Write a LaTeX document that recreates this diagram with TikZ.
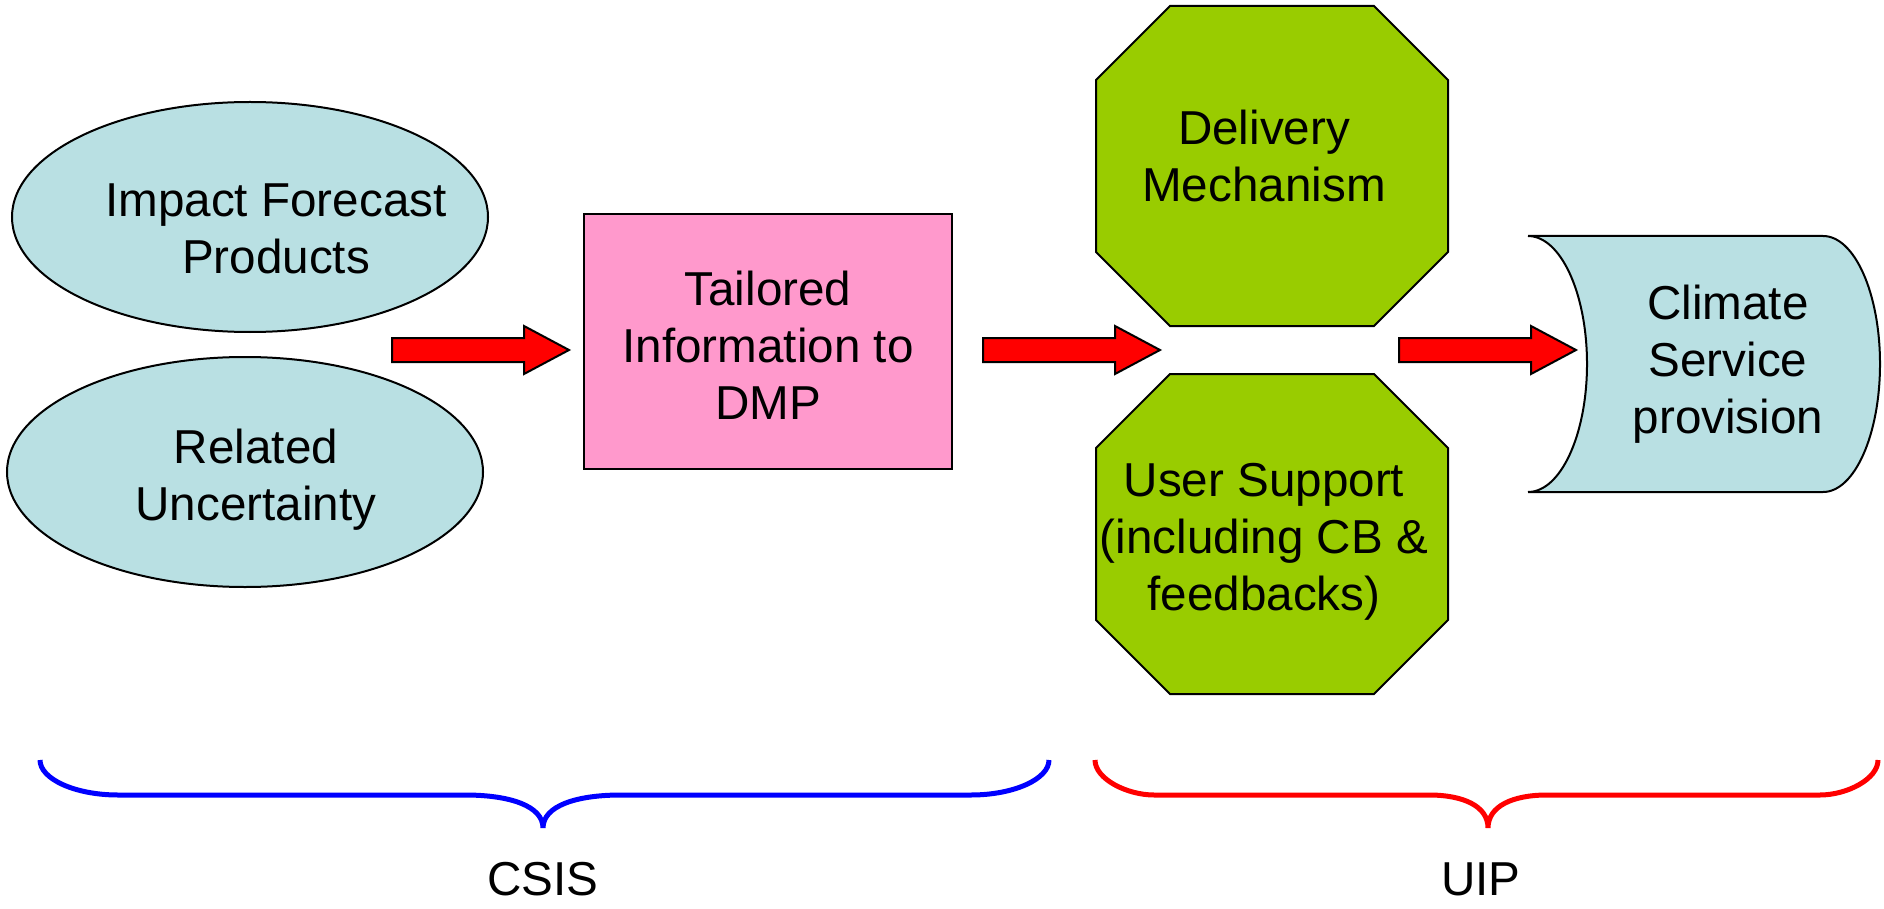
\documentclass[tikz,border=0pt]{standalone}
\usepackage{fontspec}
\setmainfont{Liberation Sans}
\usetikzlibrary{shapes.geometric}
\definecolor{paleblue}{RGB}{185,224,227}
\definecolor{pinkfill}{RGB}{255,153,204}
\definecolor{leafgreen}{RGB}{153,204,0}
\newcommand\labelfont{\fontsize{47.6}{57}\selectfont}

\begin{document}
\begin{tikzpicture}[x=1pt,y=-1pt,
  outline/.style={draw=black, line width=2pt, line join=miter},
  blob/.style={outline, ellipse, fill=paleblue, minimum width=476, minimum height=230, inner sep=0pt},
  txt/.style={font=\labelfont, align=center, anchor=base, inner sep=0pt},
  flow/.pic={\draw[outline, fill=red]
      (0,-12) -- (132,-12) -- (132,-24) -- (177,0) -- (132,24) -- (132,12) -- (0,12) -- cycle;},
  octagon/.pic={\draw[outline, fill=leafgreen]
      (-102,-160) -- (102,-160) -- (176,-86) -- (176,86) -- (102,160) -- (-102,160)
      -- (-176,86) -- (-176,-86) -- cycle;},
  brace/.style={line width=5pt, line cap=butt}
]
% canvas
\fill[white] (0,0) rectangle (1884,909);
\useasboundingbox (0,0) rectangle (1884,909);

% --- CSIS side ---
\node[blob] (ifp) at (250,217) {};
\node[txt] (ifptxt) at (276,273) {Impact Forecast\\Products};
\node[blob] (ru) at (245,472) {};
\node[txt] (rutxt) at (256,520) {Related\\Uncertainty};

\node[outline, rectangle, fill=pinkfill, minimum width=368, minimum height=255, inner sep=0pt]
  (tid) at (768,341.5) {};
\node[txt] (tidtxt) at (768,419) {Tailored\\Information to\\DMP};

% --- UIP side ---
\coordinate (dm) at (1272,166);
\coordinate (us) at (1272,534);
\pic at (dm) {octagon};
\pic at (us) {octagon};
\node[txt] (dmtxt) at (1264,202) {Delivery\\Mechanism};
\node[txt] (ustxt) at (1264,610.7) {User Support\\(including CB \&\\feedbacks)};

% horizontal drum
\draw[outline, fill=paleblue]
  (1528,236) -- (1823,236)
  .. controls (1854.5,236) and (1880,293.3) .. (1880,364)
  .. controls (1880,434.7) and (1854.5,492) .. (1823,492)
  -- (1528,492)
  .. controls (1560.6,492) and (1587,434.7) .. (1587,364)
  .. controls (1587,293.3) and (1560.6,236) .. (1528,236) -- cycle;
\node[txt] (csptxt) at (1728,433) {Climate\\Service\\provision};

% block arrows
\coordinate (a1) at (392,350);
\coordinate (a2) at (983,350);
\coordinate (a3) at (1399,350);
\pic at (a1) {flow};
\pic at (a2) {flow};
\pic at (a3) {flow};

% braces
\coordinate (csisL) at (40,760);
\coordinate (csisR) at (1049,760);
\coordinate (csisT) at (543,828);
\draw[brace, draw=blue]
  (csisL) .. controls (40,779) and (75,795) .. (118,795)
  -- (465,795) .. controls (510,795) and (543,806) .. (csisT)
  .. controls (543,806) and (576,795) .. (621,795)
  -- (971,795) .. controls (1014,795) and (1049,779) .. (csisR);
\coordinate (uipL) at (1095,760);
\coordinate (uipR) at (1878,760);
\coordinate (uipT) at (1488,828);
\draw[brace, draw=red]
  (uipL) .. controls (1095,779) and (1127,795) .. (1154,795)
  -- (1429,795) .. controls (1463,795) and (1488,806) .. (uipT)
  .. controls (1488,806) and (1513,795) .. (1547,795)
  -- (1820,795) .. controls (1847,795) and (1878,779) .. (uipR);
\node[txt] (csis) at (543,895) {CSIS};
\node[txt] (uip) at (1481,895) {UIP};
\end{tikzpicture}
\end{document}
